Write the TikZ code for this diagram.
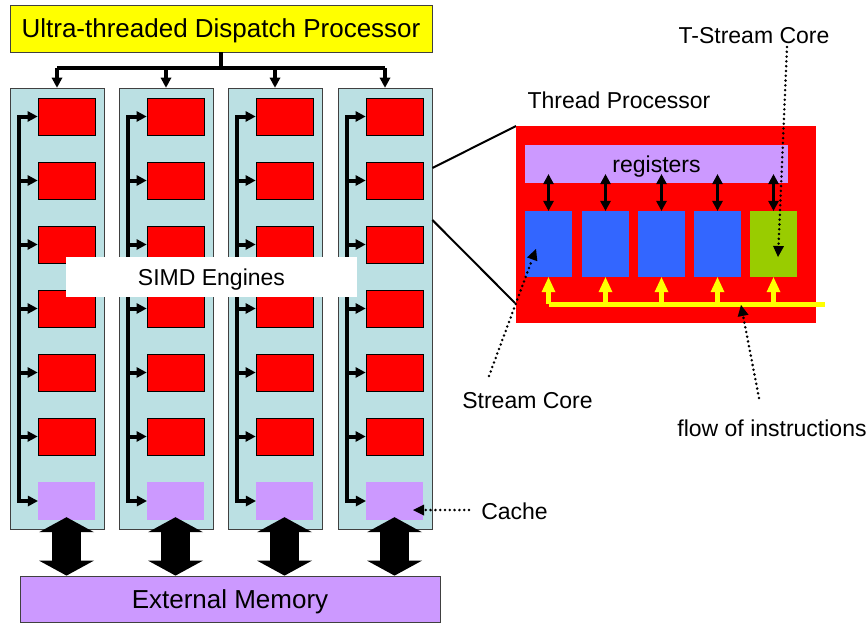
\documentclass[tikz,border=0pt]{standalone}
\usepackage{fontspec}
\setmainfont{Liberation Sans}
\usetikzlibrary{arrows.meta,positioning,calc}
\definecolor{dispYellow}{HTML}{FFFF00}
\definecolor{engCyan}{HTML}{BBE0E3}
\definecolor{engRed}{HTML}{FF0000}
\definecolor{memPurple}{HTML}{CC99FF}
\definecolor{coreBlue}{HTML}{3366FF}
\definecolor{coreGreen}{HTML}{99CC00}
\definecolor{edgeGray}{HTML}{404040}

\begin{document}
\begin{tikzpicture}[x=1pt, y=-1pt,
  every node/.style={font=\fontsize{23}{26}\selectfont, text depth=0pt, inner sep=0pt},
  bigfont/.style={font=\fontsize{26}{30}\selectfont},
  box/.style={draw=edgeGray, line width=0.8pt},
  conn/.style={line width=3.5pt},
  tip/.style={-{Triangle[length=10pt,width=11pt,line width=0pt]}},
  bothtips/.style={{Triangle[length=10pt,width=11pt,line width=0pt]}-{Triangle[length=10pt,width=11pt,line width=0pt]}},
  bigarrow/.style={line width=29pt, {Triangle[length=15pt,width=55pt,line width=0pt]}-{Triangle[length=15pt,width=55pt,line width=0pt]}},
  yline/.style={dispYellow, line width=5pt},
  note/.style={line width=2.8pt, line cap=round, dash pattern=on 0pt off 4.8pt,
    -{Triangle[length=11pt,width=11pt,line width=0pt]}}]
\useasboundingbox (0,0) rectangle (867,622);
% dispatch processor
\node[box, bigfont, fill=dispYellow, minimum width=422pt, minimum height=47pt] (disp) at (221,28.5) {Ultra-threaded Dispatch Processor};
% SIMD engine columns
\foreach \i/\x in {1/10,2/119,3/228,4/338} {
  \node[box, fill=engCyan, minimum width=94pt, minimum height=441pt] (col\i) at (\x+47,308.5) {};
  \foreach \k in {1,...,6}
    \node[draw=black, line width=1pt, fill=engRed, minimum width=57pt, minimum height=37pt] (eng\i\k) at (\x+56.5,52.5+64*\k) {};
  \node[fill=memPurple, minimum width=57pt, minimum height=38pt] (cache\i) at (\x+56.5,501) {};
  \coordinate (bus\i) at ([xshift=-19pt]eng\i1.west);
  \draw[conn, line width=4pt, bothtips] (cache\i.west) -| (bus\i) -- (eng\i1.west);
  \foreach \k in {2,...,6}
    \draw[conn, line width=4pt, tip] (bus\i |- eng\i\k.west) -- (eng\i\k.west);
}
% dispatch connectors
\coordinate (split) at (disp.south |- 0,68);
\draw[conn] (disp.south) -- (split);
\draw[conn] (col1.north |- split) -- (col4.north |- split);
\foreach \i in {1,...,4}
  \draw[conn, tip] (col\i.north |- split) -- (col\i.north);
\node[fill=white, minimum width=291pt, minimum height=40pt] (simd) at (211.5,277) {SIMD Engines};
% external memory
\node[box, bigfont, fill=memPurple, minimum width=420pt, minimum height=46pt] (mem) at (230,599) {External Memory};
\foreach \i in {1,...,4}
  \draw[bigarrow] ([yshift=3pt]cache\i.south) -- (mem.north -| cache\i.south);
% thread processor
\draw[line width=2pt] (col4.east |- 0,168) -- (516,126);
\draw[line width=2pt] (col4.east |- 0,220) -- (515,303);
\node[fill=engRed, minimum width=300pt, minimum height=197pt] (tp) at (666,224.5) {};
\node (tplabel) at (619,100) {Thread Processor};
\node[fill=memPurple, minimum width=263pt, minimum height=38pt] (reg) at (656.5,164) {registers};
\foreach \j/\x in {1/548.5,2/605.5,3/661.5,4/717.5}
  \node[fill=coreBlue, minimum width=47pt, minimum height=66pt] (core\j) at (\x,244) {};
\node[fill=coreGreen, minimum width=47pt, minimum height=66pt] (core5) at (773.5,244) {};
\foreach \j in {1,...,5}
  \draw[conn, bothtips] ([yshift=9pt]core\j.north |- reg.south) -- (core\j.north);
% flow of instructions
\coordinate (flowend) at (825,304);
\draw[yline] (core1.south |- flowend) -- (flowend);
\foreach \j in {1,...,5}
  \draw[yline, -{Triangle[length=15pt,width=14pt,line width=0pt]}] (core\j.south |- flowend) -- (core\j.south);
% labels with dotted pointers
\node (tsc) at (754,35) {T-Stream Core};
\coordinate (tscfrom) at (787,47);
\coordinate (tscto) at (778,257);
\draw[note] (tscfrom) -- (tscto);
\node (sc) at (527.5,400) {Stream Core};
\coordinate (scfrom) at (489,376);
\coordinate (scto) at (536,249);
\draw[note] (scfrom) -- (scto);
\node (flow) at (772,428) {flow of instructions};
\coordinate (flowfrom) at (759,398);
\coordinate (flowto) at (741,305);
\draw[note] (flowfrom) -- (flowto);
\node (cachelbl) at (514.5,511.5) {Cache};
\coordinate (cachefrom) at (469,510);
\coordinate (cacheto) at (413,510);
\draw[note] (cachefrom) -- (cacheto);
\end{tikzpicture}
\end{document}
